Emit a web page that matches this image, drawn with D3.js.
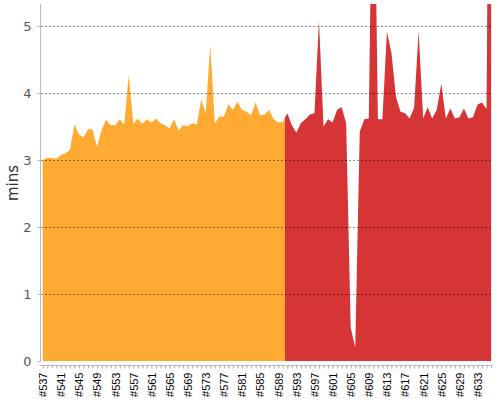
<!DOCTYPE html>
<html>
<head>
<meta charset="utf-8">
<script src="https://cdn.jsdelivr.net/npm/d3@7"></script>
<style>
  html, body { margin: 0; padding: 0; background: #fff; }
  svg { display: block; }
</style>
</head>
<body>
<svg id="chart" width="500" height="400"></svg>
<script>
// Build numbers (x categories), one per build
const builds = [537,538,539,540,541,542,543,544,545,546,547,548,549,550,551,552,553,554,555,556,
  557,558,559,560,561,562,563,564,565,566,567,568,569,570,571,572,573,574,575,576,
  577,578,579,580,581,582,583,584,585,586,587,588,589,590,591,592,593,594,595,596,
  597,598,599,600,601,602,603,604,605,606,607,608,609,610,611,612,613,614,615,616,
  617,618,619,620,621,622,623,624,625,626,627,628,629,630,631,632,633,634,635,636];

// Build duration in minutes
const minutes = [3.00,3.03,3.03,3.02,3.07,3.10,3.15,3.53,3.38,3.34,3.46,3.46,3.20,3.45,3.60,3.52,3.52,3.61,3.53,4.27,
  3.54,3.62,3.54,3.61,3.56,3.62,3.55,3.52,3.47,3.61,3.44,3.52,3.51,3.55,3.53,3.90,3.70,4.72,3.55,3.65,
  3.65,3.83,3.75,3.87,3.75,3.72,3.67,3.86,3.67,3.68,3.75,3.61,3.56,3.57,3.70,3.52,3.41,3.55,3.61,3.68,
  3.70,5.08,3.50,3.61,3.56,3.75,3.79,3.55,0.50,0.20,3.42,3.61,3.62,8.70,3.61,3.61,4.92,4.60,3.94,3.72,
  3.70,3.62,3.78,4.92,3.62,3.79,3.62,3.75,4.14,3.62,3.77,3.62,3.64,3.77,3.62,3.64,3.83,3.86,3.76,14.0];

// Zones: builds up to the split are orange, the rest red
const zoneSplit = 590.5;
const zoneColors = ["#ffab33", "#d73436"];

const xTickLabels = ["#537","#541","#545","#549","#553","#557","#561","#565","#569","#573","#577","#581",
  "#585","#589","#593","#597","#601","#605","#609","#613","#617","#621","#625","#629","#633"];
const yTicks = [0, 1, 2, 3, 4, 5];
const yTitle = "mins";

const svg = d3.select("#chart");
const plotLeft = 40, plotRight = 491, plotTop = 4, plotBottom = 361;

const x = d3.scaleLinear().domain([builds[0], builds[builds.length - 1]]).range([42.7, 491.1]);
const y = d3.scaleLinear().domain([0, 5.33]).range([plotBottom, plotTop]);

const data = builds.map((b, i) => ({ b, v: minutes[i] }));

const defs = svg.append("defs");
defs.append("clipPath").attr("id", "clipA").append("rect")
  .attr("x", 0).attr("y", plotTop).attr("width", x(zoneSplit)).attr("height", plotBottom - plotTop + 1);
defs.append("clipPath").attr("id", "clipB").append("rect")
  .attr("x", x(zoneSplit)).attr("y", plotTop).attr("width", 500 - x(zoneSplit)).attr("height", plotBottom - plotTop + 1);

const area = d3.area().x(d => x(d.b)).y0(y(0)).y1(d => y(d.v));

svg.append("path").datum(data).attr("d", area).attr("fill", zoneColors[0]).attr("clip-path", "url(#clipA)");
svg.append("path").datum(data).attr("d", area).attr("fill", zoneColors[1]).attr("clip-path", "url(#clipB)");

// gridlines (drawn over the area)
svg.append("g").selectAll("line").data(yTicks.filter(t => t > 0)).join("line")
  .attr("x1", plotLeft + 1).attr("x2", plotRight)
  .attr("y1", d => Math.round(y(d)) + 0.5).attr("y2", d => Math.round(y(d)) + 0.5)
  .attr("stroke", "rgba(0,0,0,0.45)").attr("stroke-width", 1).attr("stroke-dasharray", "2,2");

// y axis
const yAxis = svg.append("g").attr("transform", `translate(${plotLeft + 0.5},0)`)
  .call(d3.axisLeft(y).tickValues(yTicks).tickSize(3).tickPadding(6).tickFormat(d3.format("d")));
yAxis.select(".domain").attr("stroke", "#bbb").attr("d", `M0,${plotTop}V${plotBottom + 1}`);
yAxis.selectAll(".tick line").attr("stroke", "#bbb");
yAxis.selectAll(".tick text").attr("fill", "#555").style("font-family", "DejaVu Sans, sans-serif").style("font-size", "13px");

// x axis
const labelSet = new Set(xTickLabels);
const xAxis = svg.append("g").attr("transform", "translate(0,365.5)")
  .call(d3.axisBottom(x).tickValues(builds).tickSize(3).tickSizeOuter(0)
    .tickFormat(d => labelSet.has("#" + d) ? "#" + d : ""));
xAxis.select(".domain").attr("stroke", "#bbb").attr("d", `M${plotLeft},0H${plotRight + 1}`);
xAxis.selectAll(".tick line").attr("stroke", "#aaa");
xAxis.selectAll(".tick text")
  .attr("transform", "rotate(-90)")
  .attr("text-anchor", "end")
  .attr("x", -7).attr("y", 0).attr("dy", "0.35em")
  .attr("fill", "#000")
  .style("font-family", "Liberation Sans, Arial, sans-serif").style("font-size", "11px");

// y title
svg.append("text").attr("transform", "translate(18,183) rotate(-90)")
  .attr("text-anchor", "middle").attr("fill", "#333")
  .style("font-family", "DejaVu Sans, sans-serif").style("font-size", "15px")
  .text(yTitle);
</script>
</body>
</html>
